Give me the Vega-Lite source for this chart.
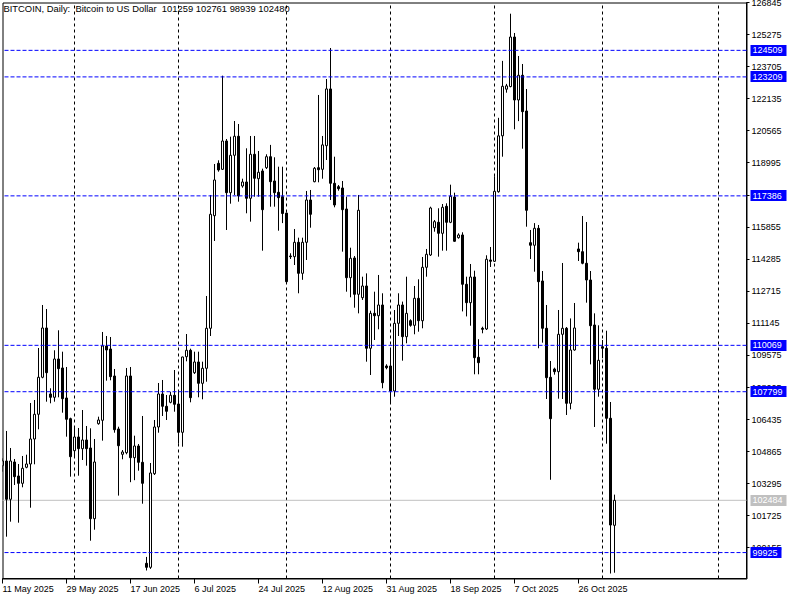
{
  "$schema": "https://vega.github.io/schema/vega-lite/v6.json",
  "width": 744,
  "height": 576,
  "autosize": "none",
  "padding": {"left": 2.5, "top": 2.5, "right": 53.5, "bottom": 21.5},
  "background": "white",
  "title": {
    "text": "BITCOIN, Daily:\u00a0 Bitcoin to US Dollar\u00a0 101259 102761 98939 102480",
    "anchor": "start", "frame": "group", "orient": "top", "baseline": "top",
    "offset": -16, "dx": 1, "font": "Liberation Sans", "fontSize": 9.4, "fontWeight": "normal", "color": "black"
  },
  "config": {
    "view": {"stroke": "black", "strokeWidth": 1},
    "axis": {
      "translate": 0, "grid": false, "title": null,
      "labelFont": "Liberation Sans", "labelFontSize": 9, "labelColor": "black",
      "tickColor": "black", "domainColor": "black",
      "labelOverlap": false, "labelFlush": false, "labelBound": false
    }
  },
  "datasets": {
    "bid": [{"price": 102484}],
    "levels": [{"level": 124509}, {"level": 123209}, {"level": 117386}, {"level": 110069}, {"level": 107799}, {"level": 99925}],
    "candles": [
      {"i":0,"o":104178,"h":104540,"l":103884,"c":104408},
      {"i":1,"o":104408,"h":105877,"l":100703,"c":102533},
      {"i":2,"o":102533,"h":105044,"l":101437,"c":104408},
      {"i":3,"o":104359,"h":104506,"l":103233,"c":103640},
      {"i":4,"o":103674,"h":104261,"l":101388,"c":103316},
      {"i":5,"o":103316,"h":104653,"l":103120,"c":104051},
      {"i":6,"o":104100,"h":104716,"l":104051,"c":104261},
      {"i":7,"o":104261,"h":107247,"l":102122,"c":105485},
      {"i":8,"o":105485,"h":107394,"l":104246,"c":106694},
      {"i":9,"o":106694,"h":109939,"l":105960,"c":108505},
      {"i":10,"o":108505,"h":112044,"l":108456,"c":110918},
      {"i":11,"o":110918,"h":111848,"l":107311,"c":108730},
      {"i":12,"o":107688,"h":107967,"l":107232,"c":107526},
      {"i":13,"o":107526,"h":109827,"l":107311,"c":109401},
      {"i":14,"o":109401,"h":110806,"l":107526,"c":108927},
      {"i":15,"o":108961,"h":109759,"l":106772,"c":107458},
      {"i":16,"o":107492,"h":109009,"l":105598,"c":106449},
      {"i":17,"o":106479,"h":106528,"l":103640,"c":104619},
      {"i":18,"o":104912,"h":106023,"l":104619,"c":105583},
      {"i":19,"o":105583,"h":106023,"l":103688,"c":105010},
      {"i":20,"o":105010,"h":106904,"l":104457,"c":105436},
      {"i":21,"o":105436,"h":106121,"l":104178,"c":105010},
      {"i":22,"o":105044,"h":106008,"l":100506,"c":101584},
      {"i":23,"o":101584,"h":105485,"l":101045,"c":104359},
      {"i":24,"o":106234,"h":106577,"l":106185,"c":106415},
      {"i":25,"o":106400,"h":110723,"l":105403,"c":110037},
      {"i":26,"o":110037,"h":110527,"l":108339,"c":109841},
      {"i":27,"o":109890,"h":110478,"l":108358,"c":108535},
      {"i":28,"o":108569,"h":108911,"l":105793,"c":105940},
      {"i":29,"o":105975,"h":106087,"l":102714,"c":105156},
      {"i":30,"o":104736,"h":104946,"l":104491,"c":104849},
      {"i":31,"o":104814,"h":108961,"l":104736,"c":108569},
      {"i":32,"o":108569,"h":109009,"l":103371,"c":104570},
      {"i":33,"o":104570,"h":105647,"l":103469,"c":105142},
      {"i":34,"o":105142,"h":105240,"l":103933,"c":104344},
      {"i":35,"o":104344,"h":106611,"l":102318,"c":103316},
      {"i":36,"o":99400,"h":99713,"l":99048,"c":99204},
      {"i":37,"o":99204,"h":104310,"l":99126,"c":103821},
      {"i":38,"o":103787,"h":106415,"l":103723,"c":106072},
      {"i":39,"o":106072,"h":108226,"l":105793,"c":107688},
      {"i":40,"o":107688,"h":108373,"l":106611,"c":107086},
      {"i":41,"o":107086,"h":107639,"l":106415,"c":106841},
      {"i":42,"o":107281,"h":107786,"l":107232,"c":107624},
      {"i":43,"o":107624,"h":108862,"l":106821,"c":107183},
      {"i":44,"o":107198,"h":107884,"l":105255,"c":105812},
      {"i":45,"o":105812,"h":109513,"l":105108,"c":109499},
      {"i":46,"o":109513,"h":110624,"l":109288,"c":109827},
      {"i":47,"o":109827,"h":109906,"l":107281,"c":107507},
      {"i":48,"o":108730,"h":109759,"l":108667,"c":109254},
      {"i":49,"o":109254,"h":109759,"l":107526,"c":108211},
      {"i":50,"o":108211,"h":109269,"l":107428,"c":108946},
      {"i":51,"o":108946,"h":112485,"l":108289,"c":110904},
      {"i":52,"o":110904,"h":117429,"l":110527,"c":116484},
      {"i":53,"o":116416,"h":118946,"l":115177,"c":118163},
      {"i":54,"o":118980,"h":119127,"l":118569,"c":118652},
      {"i":55,"o":118686,"h":123269,"l":118652,"c":120072},
      {"i":56,"o":120072,"h":120170,"l":115715,"c":117541},
      {"i":57,"o":117541,"h":120283,"l":117003,"c":119372},
      {"i":58,"o":119372,"h":121049,"l":117429,"c":120303},
      {"i":59,"o":120303,"h":120904,"l":117101,"c":117380},
      {"i":60,"o":117869,"h":118226,"l":117786,"c":118065},
      {"i":61,"o":118065,"h":119714,"l":116533,"c":117267},
      {"i":62,"o":117267,"h":120317,"l":116124,"c":119421},
      {"i":63,"o":119421,"h":120317,"l":117346,"c":118246},
      {"i":64,"o":118226,"h":119582,"l":117346,"c":118540},
      {"i":65,"o":118604,"h":118717,"l":114702,"c":116709},
      {"i":66,"o":118765,"h":119421,"l":118701,"c":119303},
      {"i":67,"o":119303,"h":119881,"l":116856,"c":118080},
      {"i":68,"o":118114,"h":119274,"l":116856,"c":117541},
      {"i":69,"o":117561,"h":118814,"l":115681,"c":117297},
      {"i":70,"o":117346,"h":118814,"l":116053,"c":116524},
      {"i":71,"o":116543,"h":116562,"l":113072,"c":113185},
      {"i":72,"o":114443,"h":114575,"l":114296,"c":114409},
      {"i":73,"o":114409,"h":115764,"l":114001,"c":115113},
      {"i":74,"o":115113,"h":115339,"l":112617,"c":113595},
      {"i":75,"o":113595,"h":115339,"l":113277,"c":115113},
      {"i":76,"o":115113,"h":117625,"l":114247,"c":117184},
      {"i":77,"o":117184,"h":117674,"l":115828,"c":116484},
      {"i":78,"o":118080,"h":118799,"l":118050,"c":118736},
      {"i":79,"o":118765,"h":122324,"l":118050,"c":118667},
      {"i":80,"o":118686,"h":120317,"l":118226,"c":119881},
      {"i":81,"o":119842,"h":123107,"l":119142,"c":122619},
      {"i":82,"o":122619,"h":124624,"l":117184,"c":118002},
      {"i":83,"o":118002,"h":119303,"l":116826,"c":116939},
      {"i":84,"o":117835,"h":117918,"l":117639,"c":117737},
      {"i":85,"o":117771,"h":118114,"l":114654,"c":116709},
      {"i":86,"o":116743,"h":117346,"l":112695,"c":113380},
      {"i":87,"o":113380,"h":114849,"l":112421,"c":114330},
      {"i":88,"o":114345,"h":114443,"l":111912,"c":112568},
      {"i":89,"o":112568,"h":117429,"l":111635,"c":116680},
      {"i":90,"o":112402,"h":113429,"l":112289,"c":112974},
      {"i":91,"o":112974,"h":113591,"l":109269,"c":109926},
      {"i":92,"o":109926,"h":111764,"l":108618,"c":111636},
      {"i":93,"o":111636,"h":112695,"l":110331,"c":111519},
      {"i":94,"o":111519,"h":113513,"l":110855,"c":112044},
      {"i":95,"o":112044,"h":112617,"l":107967,"c":108241},
      {"i":96,"o":109058,"h":109142,"l":108897,"c":108975},
      {"i":97,"o":109058,"h":109926,"l":107262,"c":107835},
      {"i":98,"o":107835,"h":111798,"l":107555,"c":111147},
      {"i":99,"o":111147,"h":112617,"l":110527,"c":112044},
      {"i":100,"o":112044,"h":112210,"l":109318,"c":110493},
      {"i":101,"o":110493,"h":113429,"l":110170,"c":111636},
      {"i":102,"o":111275,"h":111343,"l":110981,"c":111049},
      {"i":103,"o":111049,"h":112974,"l":110611,"c":112372},
      {"i":104,"o":112372,"h":113302,"l":110737,"c":111275},
      {"i":105,"o":111275,"h":114394,"l":110904,"c":113890},
      {"i":106,"o":113890,"h":114786,"l":113429,"c":114526},
      {"i":107,"o":114492,"h":116856,"l":114443,"c":116792},
      {"i":108,"o":115828,"h":116205,"l":115632,"c":116122},
      {"i":109,"o":116092,"h":116778,"l":114409,"c":115553},
      {"i":110,"o":115553,"h":116988,"l":114702,"c":116827},
      {"i":111,"o":116876,"h":117022,"l":114702,"c":116092},
      {"i":112,"o":116092,"h":117933,"l":116050,"c":117365},
      {"i":113,"o":117331,"h":117541,"l":115143,"c":115162},
      {"i":114,"o":115339,"h":115553,"l":115290,"c":115471},
      {"i":115,"o":115471,"h":115602,"l":111730,"c":113058},
      {"i":116,"o":113058,"h":113429,"l":111485,"c":112157},
      {"i":117,"o":112157,"h":114051,"l":111030,"c":113415},
      {"i":118,"o":113415,"h":113723,"l":108652,"c":109465},
      {"i":119,"o":109484,"h":110370,"l":108652,"c":109220},
      {"i":120,"o":110904,"h":110982,"l":110659,"c":110855},
      {"i":121,"o":110869,"h":114477,"l":110820,"c":114281},
      {"i":122,"o":114247,"h":114884,"l":113904,"c":114183},
      {"i":123,"o":114183,"h":118343,"l":114150,"c":117608},
      {"i":124,"o":117590,"h":121205,"l":117541,"c":120324},
      {"i":125,"o":120324,"h":123993,"l":119303,"c":122749},
      {"i":126,"o":122608,"h":122867,"l":122436,"c":122769},
      {"i":127,"o":122735,"h":126303,"l":122700,"c":125162},
      {"i":128,"o":125162,"h":125359,"l":120645,"c":122079},
      {"i":129,"o":122079,"h":124233,"l":121045,"c":123288},
      {"i":130,"o":123288,"h":123841,"l":119695,"c":121508},
      {"i":131,"o":121540,"h":122617,"l":115877,"c":116680},
      {"i":132,"o":115094,"h":115716,"l":114296,"c":114967},
      {"i":133,"o":114967,"h":116053,"l":113674,"c":115799},
      {"i":134,"o":115799,"h":115960,"l":109926,"c":113185},
      {"i":135,"o":113219,"h":113708,"l":110199,"c":110904},
      {"i":136,"o":110904,"h":112044,"l":107443,"c":108486},
      {"i":137,"o":108505,"h":109303,"l":103489,"c":106479},
      {"i":138,"o":108912,"h":108976,"l":108633,"c":108780},
      {"i":139,"o":108780,"h":111799,"l":107458,"c":110609},
      {"i":140,"o":110609,"h":114100,"l":107443,"c":110904},
      {"i":141,"o":110904,"h":110967,"l":106660,"c":107232},
      {"i":142,"o":107232,"h":111387,"l":106937,"c":109841},
      {"i":143,"o":109841,"h":112142,"l":109807,"c":110919},
      {"i":144,"o":114786,"h":115094,"l":114198,"c":114654},
      {"i":145,"o":114654,"h":116401,"l":114037,"c":114086},
      {"i":146,"o":114086,"h":116107,"l":112157,"c":113268},
      {"i":147,"o":113268,"h":113708,"l":109136,"c":111030},
      {"i":148,"o":111065,"h":111636,"l":106073,"c":107919},
      {"i":149,"o":107919,"h":111050,"l":107555,"c":109337},
      {"i":150,"o":110003,"h":110331,"l":109435,"c":109926},
      {"i":151,"o":109926,"h":110786,"l":105255,"c":106498},
      {"i":152,"o":106498,"h":107296,"l":98900,"c":101274},
      {"i":153,"o":101259,"h":102761,"l":98939,"c":102480}
    ]
  },
  "resolve": {"axis": {"x": "independent", "y": "independent"}},
  "layer": [
    {
      "data": {"name": "bid"},
      "mark": {"type": "rule", "color": "#C0C0C0", "strokeWidth": 1},
      "encoding": {
        "y": {
          "field": "price", "type": "quantitative",
          "scale": {"domain": [98656, 126851], "nice": false, "zero": false},
          "axis": {"orient": "right", "values": [102484], "format": "d", "offset": 4, "domain": false,
            "tickSize": 36, "tickWidth": 11, "tickColor": "#C0C0C0", "labelColor": "white",
            "labelPadding": -34, "labelBaseline": "middle", "labelAlign": "left"}
        }
      }
    },
    {
      "data": {"name": "candles"},
      "mark": {"type": "rule", "color": "black", "strokeWidth": 1, "clip": true},
      "encoding": {
        "x": {
          "field": "i", "type": "quantitative",
          "scale": {"domain": [0, 186], "nice": false, "zero": false, "padding": 0},
          "axis": {"orient": "top", "values": [18, 44, 71, 97, 123, 150, 179], "grid": true,
            "gridColor": "black", "gridDash": [3, 3], "gridWidth": 1,
            "labels": false, "ticks": false, "domain": false}
        },
        "y": {"field": "l", "type": "quantitative", "scale": {"domain": [98656, 126851], "nice": false, "zero": false}, "axis": null},
        "y2": {"field": "h"}
      }
    },
    {
      "data": {"name": "candles"},
      "mark": {"type": "bar", "orient": "vertical", "width": 2, "stroke": "black", "strokeWidth": 1, "clip": true},
      "encoding": {
        "x": {
          "field": "i", "type": "quantitative",
          "scale": {"domain": [0, 186], "nice": false, "zero": false, "padding": 0},
          "axis": {"orient": "bottom", "values": [0, 16, 32, 48, 64, 80, 96, 112, 128, 144],
            "labelExpr": "['11 May 2025','29 May 2025','17 Jun 2025','6 Jul 2025','24 Jul 2025','12 Aug 2025','31 Aug 2025','18 Sep 2025','7 Oct 2025','26 Oct 2025'][round(datum.value/16)]",
            "tickSize": 5, "labelPadding": 1, "labelAlign": "left", "labelBaseline": "top", "domain": true}
        },
        "y": {
          "field": "o", "type": "quantitative",
          "scale": {"domain": [98656, 126851], "nice": false, "zero": false},
          "axis": {"orient": "right", "format": "d", "tickSize": 3, "labelPadding": 2, "labelBaseline": "middle", "labelAlign": "left",
            "values": [126845, 125275, 123705, 122135, 120565, 118995, 117425, 115855, 114285, 112715, 111145, 109575, 108005, 106435, 104865, 103295, 101725, 100155]}
        },
        "y2": {"field": "c"},
        "fill": {"condition": {"test": "datum.c >= datum.o", "value": "white"}, "value": "black"}
      }
    },
    {
      "data": {"name": "levels"},
      "transform": [{"filter": "datum.level >= 100000"}],
      "mark": {"type": "rule", "color": "#0000FF", "strokeWidth": 1, "strokeDash": [4, 2]},
      "encoding": {
        "y": {
          "field": "level", "type": "quantitative",
          "scale": {"domain": [98656, 126851], "nice": false, "zero": false},
          "axis": {"orient": "right", "values": [124509, 123209, 117386, 110069, 107799], "format": "d", "offset": 4, "domain": false,
            "tickSize": 36, "tickWidth": 11, "tickColor": "#0000FF", "labelColor": "white",
            "labelPadding": -34, "labelBaseline": "middle", "labelAlign": "left"}
        }
      }
    },
    {
      "data": {"name": "levels"},
      "transform": [{"filter": "datum.level < 100000"}],
      "mark": {"type": "rule", "color": "#0000FF", "strokeWidth": 1, "strokeDash": [4, 2]},
      "encoding": {
        "y": {
          "field": "level", "type": "quantitative",
          "scale": {"domain": [98656, 126851], "nice": false, "zero": false},
          "axis": {"orient": "right", "values": [99925], "format": "d", "offset": 4, "domain": false,
            "tickSize": 31, "tickWidth": 11, "tickColor": "#0000FF", "labelColor": "white",
            "labelPadding": -29, "labelBaseline": "middle", "labelAlign": "left"}
        }
      }
    }
  ]
}
